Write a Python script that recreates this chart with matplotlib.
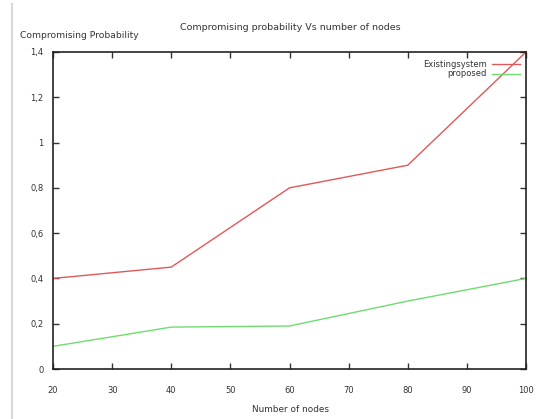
import matplotlib
matplotlib.use("Agg")
import matplotlib.pyplot as plt
from matplotlib.lines import Line2D

nodes = [20, 40, 60, 80, 100]
existing = [0.4, 0.45, 0.8, 0.9, 1.4]
proposed = [0.1, 0.185, 0.19, 0.3, 0.4]
xticks = [20, 30, 40, 50, 60, 70, 80, 90, 100]
yticks = [0, 0.2, 0.4, 0.6, 0.8, 1.0, 1.2, 1.4]
ytick_labels = ["0", "0,2", "0,4", "0,6", "0,8", "1", "1,2", "1,4"]

W, H = 543, 419
fig = plt.figure(figsize=(W / 100, H / 100), dpi=100)
ax = fig.add_axes([53 / W, 1 - 369 / H, (526 - 53) / W, (369 - 52) / H])

red = "#e05858"
green = "#70dc70"
ax.plot(nodes, existing, color=red, lw=1.0)
ax.plot(nodes, proposed, color=green, lw=1.0)

ax.set_xlim(20, 100)
ax.set_ylim(0, 1.4)
ax.set_xticks(xticks)
ax.set_xticklabels([str(v) for v in xticks])
ax.set_yticks(yticks)
ax.set_yticklabels(ytick_labels)
ax.tick_params(direction="in", length=4, width=1, top=True, right=True,
               labelsize=6, colors="#333333")
ax.tick_params(axis="x", pad=12)
ax.tick_params(axis="y", pad=7)
for s in ax.spines.values():
    s.set_linewidth(1.2)
    s.set_color("#222222")

fig.text(290 / W, 1 - 27 / H, "Compromising probability Vs number of nodes",
         ha="center", va="center", fontsize=6.8, color="#333333")
fig.text(20 / W, 1 - 36 / H, "Compromising Probability",
         ha="left", va="center", fontsize=6.6, color="#333333")
fig.text(290 / W, 1 - 409 / H, "Number of nodes",
         ha="center", va="center", fontsize=6.4, color="#333333")

# legend (gnuplot style: text right-aligned, sample to the right)
for txt, col, yy in [("Existingsystem", red, 64), ("proposed", green, 74)]:
    fig.text(487 / W, 1 - yy / H, txt, ha="right", va="center",
             fontsize=6, color="#333333")
    fig.add_artist(Line2D([492 / W, 520 / W], [1 - yy / H, 1 - yy / H],
                          color=col, lw=1.0, transform=fig.transFigure))

# light page border line at left
fig.add_artist(Line2D([12 / W, 12 / W], [0, 1 - 4 / H], color="#d8d8d8",
                      lw=1.5, transform=fig.transFigure))

fig.savefig("out.png", dpi=100)
